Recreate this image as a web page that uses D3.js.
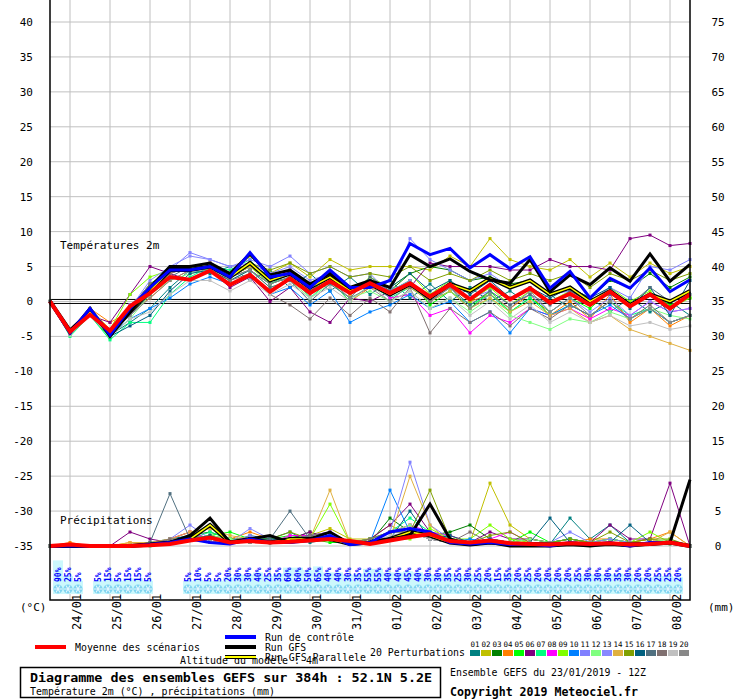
<!DOCTYPE html>
<html><head><meta charset="utf-8">
<script src="https://cdn.jsdelivr.net/npm/d3@7"></script>
<style>body{margin:0;background:#fff}svg{font-family:"DejaVu Sans Mono",monospace}</style>
</head><body><svg id="c" width="740" height="700"></svg>
<script>
const hours = d3.range(0, 385, 12);
const dateLabels = ["24/01","25/01","26/01","27/01","28/01","29/01","30/01","31/01","01/02","02/02","03/02","04/02","05/02","06/02","07/02","08/02"];
const leftTicks = d3.range(-35, 41, 5);
const rightTicks = d3.range(0, 76, 5);
const pertColors = ["#008080","#c0c000","#008000","#ff8000","#00ff00","#800080","#00ff80","#ff00ff","#80ff00","#0080ff","#8080ff","#80ff80","#8888ff","#e0b040","#80a000","#006080","#507080","#807070","#c0c0c0","#888888"];

const tMean = [0,-4.3,-1.9,-4.2,-0.7,1.2,3.5,3.1,4.4,2.4,3.8,1.4,3.3,1.2,2.9,1.2,2.6,1.2,2.6,0.7,2.4,0.3,2.4,0.3,1.9,-0.2,1.1,-0.5,1.4,-0.7,1,-1,1];
const tControl = [0,-4.5,-1,-4.8,-1,2,4.5,4.5,5,3.5,7,3.5,4,2,4.5,2,2,3,8.3,6.7,7.6,4.8,6.7,4.7,6.4,1.9,4.3,0.5,3.3,1.9,4.8,1.4,3.1];
const tGFS = [0,-4.5,-1,-5,-1.5,2,5,5,5.5,4,6.8,3.8,4.5,2.5,4,2,3,2,6.7,5,6.1,4.3,3.1,2.6,6,1.4,3.8,2.4,4.8,2.9,6.8,2.9,5.3];
const tPar = [0,-4.2,-1.5,-4.5,-1.5,1.5,4.5,4.5,5,3.5,5.5,3,4,2,3.5,1.5,2.5,1,2.5,0.5,2.5,1.5,3.3,2,3,1,2,0,1.5,-0.5,1,0,1.5];
const tPert = [
[0,-4.6,-1.5,-4.8,-3,-1,2,4.5,4,5,3,4.5,2,4,1.5,3.5,1,3,0.5,2.5,0,2,0,1.5,-0.5,1,-1,0.5,-1.5,0.5,-1.5,0,-2],
[0,-4.3,-1.5,-4.5,-0.5,2,4.5,5,5.5,4,6.5,4,5.5,3.5,6,4.5,5,5,5,4.5,6.5,5,9,6,5,4.5,6,3.5,5.5,3.5,5.5,4,5],
[0,-4.4,-2,-4,-1,2.5,4.5,4.5,5,3.5,5,3,4,2,3.5,1.5,3,1.5,4,5,4.5,3,3.5,2.5,3,1,2,0.5,3,2,4,2,3.5],
[0,-4,-1,-3,-1.5,0.5,3,4.5,5,4,5.5,3,4,1.5,3,0,2,1,3,0.5,2,0,1,-1,1,-2,0,-2.5,1,-3,-1,-3.5,-2],
[0,-4.7,-2,-5.2,-1.5,1,4,5,5.5,4,5.5,3.5,4.5,1.5,3.5,1,2.5,1.5,3,-0.5,1.5,-1,1.5,-1.5,0.5,-1.5,0.5,-1,1.5,-0.5,1,-0.5,0.5],
[0,-4.5,-2,-3,1,5,4,3,4.5,2,3.5,0,2,-1.5,-3,0.5,0,1.5,2,5.5,5,5,5,4.5,4.5,6,5,5,4.5,9,9.5,8,8.3],
[0,-5,-2,-5.5,-3,-3,1,3.5,5,4.5,6,2.5,4,0.5,3,0,2.5,0.5,2,0,1.5,-0.5,1,-1.5,0.5,-2,-0.5,-2,0,-2,-1,-3,-2],
[0,-4.4,-1.5,-4.5,-0.5,1.5,4,5,5.5,3.5,5.5,3,4.5,1.5,4,1,3,0.5,1,-2,-1,-4.5,-2,-3,-1,-2,-1,-2.5,-1,-2,0,-1.5,-1],
[0,-4.3,-1,-4,1,3.5,4.5,5,4.5,3.5,5,2.5,3.5,1.5,3,1,3.5,2,4,1,3,0,2,-0.5,1.5,0,1.5,0,2,0,1.5,-1,0.5],
[0,-4.6,-2,-4.8,-2.5,-1,0.5,2.5,3.5,2.5,4,1,2,-0.5,1.5,-3,-1.5,-0.5,1,-1,0,-3,-1.5,-4.5,-1,-2,-0.5,-2,-0.5,-2.5,-1,-3,-2],
[0,-4.2,-1.5,-4,-0.5,2,4.5,7,6,5,6,5,6.5,4,5,3.5,4,1,9,6,4.5,3,4,2,3,1,1.5,0,2,0.5,5,4.5,6],
[0,-4.8,-2,-5,-2.5,1,3,4,4.5,3,4.5,2,3,0.5,2.5,0.5,1.5,0,1.5,-1,0.5,-1.5,0.5,-2,-3,-4,-2.5,-3,-1.5,-2.5,-1,-2,-2.5],
[0,-4.5,-1.5,-4.5,-1,3,5,6.5,6,5,5.5,4,5,3,4,2,3,1.5,3,0,2,0.5,1.5,-0.5,1,-1.5,0.5,-1.5,0.5,-2,0,-1.5,-1],
[0,-4.1,-1,-4,-1,1.5,4,5,5,3.5,5,3,4,2,3,1,2.5,1,2,0,1.5,-1,0.5,-1.5,0,-2,-1,-3,-2,-4,-5,-6,-7],
[0,-4.4,-1.5,-4.5,-1,2,4.5,5,5,4,5.5,4.5,5.5,4,5,3.5,4,3.5,5,3,4,3,4.5,3,4,3,4,2,4,3,4.5,3,4],
[0,-4.6,-2,-5,-3.5,-2,1.5,4,4.5,3,4.5,2.5,3.5,1.5,3,1.5,3,2,4,1.5,3,1,3,0.5,2,0.5,2,0.5,2,-1,2,-2,3],
[0,-4.5,-2,-4.5,-2,1,3.5,5,5,3.5,4.5,2,3,0,2.5,0.5,3.5,1.5,2.5,0,2,-0.5,1.5,-0.5,1,-0.5,1.5,0,1,-0.5,2,0,1],
[0,-4.6,-1.5,-4.3,-1,2.5,4,5,5,3,4,1,-0.5,-2.5,0.5,-2,0.5,-1.5,2,-4.5,-1,-3,-1.5,-3.5,-1,-2.5,-0.5,-2,0,-2.5,-0.5,-3,-2],
[0,-4.8,-2,-5,-2.5,-1.5,1,3,3,1.5,3,1,2.5,0.5,2,0,2.5,0,1.5,-1,0.5,-2,0,-2.5,-0.5,-3,-1.5,-3,-2,-3.5,-3,-4,-3.5],
[0,-4.5,-2,-4.7,-2,0.5,3,4.5,4.5,3.5,4.5,2.5,3.5,1,3,0.5,2,0,2.5,0,2,-1,1,-1,1.5,-1.5,0.5,-2,0,-2.5,-1,-3,-2]
];
const pMean = [0,0.2,0,0,0,0.1,0.3,0.8,1.2,0.5,0.7,0.5,0.6,0.8,1,0.7,0.3,0.8,1.3,1.7,0.7,0.5,0.8,0.4,0.3,0.2,0.4,0.3,0.4,0.2,0.3,0.5,0];
const pControl = [0,0,0,0,0,0.2,0.5,1,0.5,0.3,1,0.5,0.5,0.8,1.5,0.2,0.5,2,2.5,2,0.5,0.3,0.5,0.2,0.3,0,0.5,0.2,0.5,0,0.5,0.5,0];
const pGFS = [0,0,0,0,0,0.2,0.5,1.5,4,0.5,1,1.5,0.5,1,2,0.3,0.5,1,1.5,6,1,0.2,0.5,0,0,0,0.2,0,0.3,0,0.3,0.5,9.5];
const pPar = [0,0,0,0,0,0.2,0.5,1,3,0.5,1,0.5,1,1,1,0.3,0.5,1,2,1.5,0.5,0.2,0.5,0.3,0.3,0.2,0.3,0.2,0.3,0.2,0.3,0.5,0];
const pPert = [
[0,0,0,0,0,0.5,1,1.5,0.5,0.5,1.5,1,2,0.5,1,0.3,0.5,1,2,1,0.5,0.3,1,0.5,0.5,0.3,4,1,3,0.5,1,0.5,0],
[0,0.3,0,0,0,0.3,1,2,1,0.5,1,0.5,0.5,1.5,2.5,1,1,3,1.5,2,1.5,0.5,9,3,1,0.5,0.5,0.5,1,0.5,1,0.5,0],
[0,0,0,0,0,0.2,0.5,1.5,2,1,1,0.5,1,2,1,0.5,0.5,4,2,1.5,2,3,1,0.5,1,0.5,1,0.5,0.5,0.5,0.5,0.3,0],
[0,0.5,0,0,0.5,0.2,1,2,0.5,1,2,1,1,1.5,1,0.5,1,2,3,1,0.5,0.3,0.5,0.5,0.5,0.3,0.5,1,1,0.5,1,2,0],
[0,0,0,0,0,0.3,1,1,1.5,2,1,1,1.5,1,0.5,0.5,0.5,1,2,1.5,0.5,0.5,1,0.5,2,0.5,1,0.5,1,0.5,0.5,0.5,0],
[0,0,0,0,2,1,0.5,1,1.5,1,1,0.5,1,2,1,0.5,1,3,6,2,1,0.5,2,1,1,0.5,1,0.5,3,1,1,9,0],
[0,0,0,0,0,0,0.5,1,2,1,0.5,1,0.5,1,1.5,0.5,1,2,4,2,1,0.5,1,0.5,0.5,0.5,1,0.5,1,0.5,0.5,0.5,0],
[0,0,0,0,0,0.3,1,2,1,0.5,1,0.5,1.5,1.5,2,0.5,0.5,2,3,2,1.5,0.5,1,2,0.5,0.5,0.5,0.5,0.5,0.5,0.5,0.5,0],
[0,0,0,0,0,0.2,1,1,1.5,1,1,0.5,1,1,6,0.5,0.5,1,1,2.5,1,1,3,1,0.5,0.5,0.5,0.5,1,0.5,2,0.5,0],
[0,0,0,0,0,0.3,0.5,1.5,1,0.5,1,0.5,0.5,1,1.5,0.5,0.5,8,2,1.5,0.5,1,0.5,0.5,0.5,0.5,0.5,0.5,0.5,0.5,0.5,0.5,0],
[0,0,0,0,0,0.2,1,3,1,0.5,1.5,0.5,0.5,1.5,2,0.5,0.5,2,12,3,1,0.5,1,0.5,0.5,0.5,2,0.5,1,0.5,0.5,0.5,0],
[0,0,0,0,0,0.3,0.5,1,1.5,1,0.5,0.5,1,1,1,0.5,1,2,3,1.5,0.5,0.5,0.5,0.5,1,0.5,0.5,0.5,0.5,0.5,0.5,1,0],
[0,0,0,0,0,0.3,1,1,1,0.5,2.5,1,0.5,1,1.5,0.5,0.5,2,2.5,1,0.5,0.5,1,0.5,0.5,0.5,0.5,0.5,0.5,0.5,0.5,0.5,0],
[0,0,0,0,0.5,0.5,1,2,2.5,1.5,1,0.5,1,1,8,0.5,0.5,1,10,3,0.5,0.5,0.5,0.5,0.5,0.5,0.5,0.5,0.5,0.5,0.5,2,0],
[0,0,0,0,0,0.3,0.5,1.5,1,0.5,1,1,2,1,1,0.5,1,2,2,8,1,0.5,1.5,2,0.5,0.5,1,0.5,2,0.5,1,1,0],
[0,0,0,0,0,0.2,0.5,1,1.5,0.5,1,1,1,1.5,1,0.5,0.5,1,5,1,1.5,0.5,1,0.5,0.5,4,0.5,0.5,0.5,3,0.5,0.5,0],
[0,0,0,0,0,0.5,7.5,1,1,0.5,0.5,1,5,1,1,0.5,0.5,1,2,1,0.5,0.5,0.5,0.5,0.5,0.5,0.5,0.5,0.5,0.5,0.5,0.5,0],
[0,0,0,0,0,0.3,1,1,1,0.5,1,0.5,1,1.5,2,0.5,1,2,2,1,0.5,2,0.5,0.5,0.5,0.5,0.5,0.5,0.5,0.5,0.5,0.5,0],
[0,0,0,0,0,0.2,0.5,1,1,0.5,1,0.5,0.5,1,1,0.5,0.5,1.5,2,1,0.5,0.5,0.5,0.5,0.5,0.5,0.5,0.5,0.5,0.5,0.5,0.5,0],
[0,0,0,0,0,0.2,0.5,1.5,1,0.5,0.5,0.5,1,1,1,0.5,0.5,1,2,1.5,0.5,0.5,0.5,0.5,0.5,0.5,0.5,0.5,0.5,0.5,0.5,0.5,0]
];
const probPct = [90,25,5,null,5,15,5,15,15,5,null,null,null,
5,10,5,5,20,30,30,40,25,35,60,60,50,65,40,40,30,35,55,
55,40,40,45,40,30,30,35,25,30,25,20,15,35,20,25,20,20,20,20,25,30,30,30,35,30,20,20,25,25,20,null];

const svg = d3.select("#c");
const x = d3.scaleLinear().domain([0,384]).range([50,690]);
const y = d3.scaleLinear().domain([-35,40]).range([546,22]);
const yR = d3.scaleLinear().domain([0,75]).range([546,22]);

const g = svg.append("g");
g.selectAll(".hg").data(leftTicks).join("line").attr("x1",50).attr("x2",690)
 .attr("y1",d=>y(d)).attr("y2",d=>y(d)).attr("stroke","#c0c0c0");
g.selectAll(".vg").data(dateLabels).join("line").attr("x1",(d,i)=>x(12+24*i)).attr("x2",(d,i)=>x(12+24*i))
 .attr("y1",0).attr("y2",600).attr("stroke","#c0c0c0");

const pr = svg.append("g");
probPct.forEach((p,i)=>{
  if(p==null) return;
  const cx = x(6*(i+1))-2;
  pr.append("rect").attr("x",cx-5).attr("width",10).attr("y",594-(12+p*0.24)).attr("height",12+p*0.24).attr("fill","#ccf8fc");
});
probPct.forEach((p,i)=>{
  if(p==null) return;
  const cx = x(6*(i+1))-2;
  pr.append("text").attr("transform",`translate(${cx+3},582) rotate(-90)`).attr("font-size",8).attr("font-weight","bold")
    .attr("fill","#0000ff").text(p+"%");
  const fl = pr.append("g").attr("transform",`translate(${cx},589)`);
  fl.append("circle").attr("r",4.5).attr("fill","#7fd4f0");
  [0,60,120].forEach(a=>fl.append("line").attr("x1",-4).attr("x2",4).attr("transform",`rotate(${a})`).attr("stroke","#e8f8ff").attr("stroke-width",1));
});

svg.append("line").attr("x1",50).attr("x2",690).attr("y1",y(0)-2).attr("y2",y(0)-2).attr("stroke","#000");
svg.append("line").attr("x1",50).attr("x2",690).attr("y1",y(0)+2).attr("y2",y(0)+2).attr("stroke","#000");

const lineT = d3.line().x((d,i)=>x(hours[i])).y(d=>y(d));
const lineP = d3.line().x((d,i)=>x(hours[i])).y(d=>yR(d));

function pert(arr, line, sc){
  arr.forEach((s,k)=>{
    svg.append("path").attr("d",line(s)).attr("fill","none").attr("stroke",pertColors[k]).attr("stroke-width",1);
    svg.selectAll(null).data(s).join("rect").attr("x",(d,i)=>x(hours[i])-1.5).attr("y",d=>sc(d)-1.5)
      .attr("width",3).attr("height",3).attr("fill",pertColors[k]);
  });
}
pert(tPert,lineT,y);
pert(pPert,lineP,yR);
function main(line, ctl, gfs, par, mean){
  svg.append("path").attr("d",line(par)).attr("fill","none").attr("stroke","#000").attr("stroke-width",4);
  svg.append("path").attr("d",line(par)).attr("fill","none").attr("stroke","#ffff00").attr("stroke-width",1.5);
  svg.append("path").attr("d",line(gfs)).attr("fill","none").attr("stroke","#000").attr("stroke-width",3);
  svg.append("path").attr("d",line(ctl)).attr("fill","none").attr("stroke","#0000ff").attr("stroke-width",3);
  svg.append("path").attr("d",line(mean)).attr("fill","none").attr("stroke","#ff0000").attr("stroke-width",4);
}
main(lineT,tControl,tGFS,tPar,tMean);
main(lineP,pControl,pGFS,pPar,pMean);

svg.append("rect").attr("x",50).attr("y",-1).attr("width",640).attr("height",601).attr("fill","none").attr("stroke","#000").attr("stroke-width",1.5);

svg.selectAll(".lt").data(leftTicks).join("text").attr("x",33).attr("y",d=>y(d)+4).attr("text-anchor","end").attr("font-size",11).text(d=>d);
svg.selectAll(".rt").data(rightTicks).join("text").attr("x",718).attr("y",d=>yR(d)+4).attr("text-anchor","middle").attr("font-size",11).text(d=>d);
svg.selectAll(".dl").data(dateLabels).join("text").attr("transform",(d,i)=>`translate(${x(12+24*i)+11},630) rotate(-90)`).attr("font-size",12).text(d=>d);
svg.append("text").attr("x",20).attr("y",611).attr("font-size",11).text("(°C)");
svg.append("text").attr("x",708).attr("y",611).attr("font-size",11).text("(mm)");
svg.append("text").attr("x",60).attr("y",249).attr("font-size",11).text("Températures 2m");
svg.append("text").attr("x",60).attr("y",524).attr("font-size",11).text("Précipitations");

function txt(xx,yy,s,len,opts={}){
  const t = svg.append("text").attr("x",xx).attr("y",yy).attr("font-size",opts.size||11).text(s);
  if(len) t.attr("textLength",len).attr("lengthAdjust","spacingAndGlyphs");
  if(opts.bold) t.attr("font-weight","bold");
  return t;
}
svg.append("line").attr("x1",35).attr("x2",66).attr("y1",647).attr("y2",647).attr("stroke","#ff0000").attr("stroke-width",4);
txt(75,651,"Moyenne des scénarios",125);
svg.append("line").attr("x1",225).attr("x2",256).attr("y1",637).attr("y2",637).attr("stroke","#0000ff").attr("stroke-width",4);
svg.append("line").attr("x1",225).attr("x2",256).attr("y1",647).attr("y2",647).attr("stroke","#000").attr("stroke-width",4);
txt(180,664,"Altitude du modèle : 4m",138);
svg.append("line").attr("x1",225).attr("x2",256).attr("y1",657).attr("y2",657).attr("stroke","#000").attr("stroke-width",4);
svg.append("line").attr("x1",225).attr("x2",256).attr("y1",657).attr("y2",657).attr("stroke","#ffff00").attr("stroke-width",2);
txt(265,641,"Run de contrôle",89);
txt(265,651,"Run GFS",41);
txt(265,661,"Run GFS Parallele",101);
txt(370,656,"20 Perturbations",95);
pertColors.forEach((c,i)=>{
  svg.append("rect").attr("x",470+i*11).attr("y",650).attr("width",10).attr("height",6).attr("fill",c);
  svg.append("text").attr("x",475+i*11).attr("y",647).attr("text-anchor","middle").attr("font-size",7.5).text(String(i+1).padStart(2,"0"));
});
svg.append("rect").attr("x",20.5).attr("y",667.5).attr("width",420).attr("height",30).attr("fill","none").attr("stroke","#000").attr("stroke-width",1.5);
txt(30,682,"Diagramme des ensembles GEFS sur 384h : 52.1N 5.2E",402,{size:12,bold:true});
txt(30,695,"Température 2m (°C) , précipitations (mm)",245);
txt(450,676,"Ensemble GEFS du 23/01/2019 - 12Z",196);
txt(450,696,"Copyright 2019 Meteociel.fr",188,{size:12,bold:true});
</script></body></html>
